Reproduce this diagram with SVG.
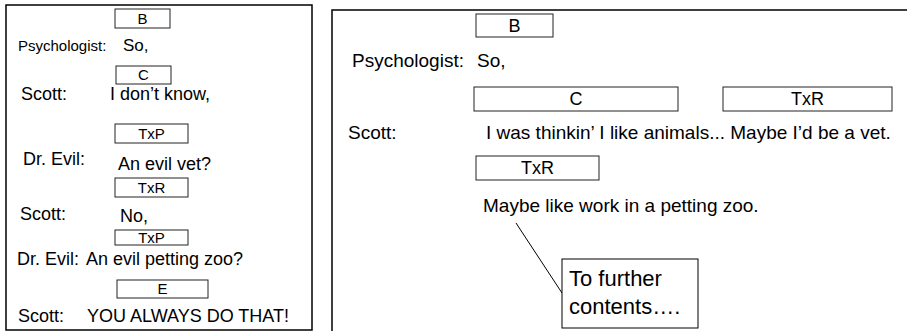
<svg xmlns="http://www.w3.org/2000/svg" width="907" height="331" viewBox="0 0 907 331">
<style>
text{font-family:"Liberation Sans",Arial,Helvetica,sans-serif;fill:#000}
.panel{fill:none;stroke:#000;stroke-width:1.5}
.box{fill:#fff;stroke:#222;stroke-width:1}
.lb{font-size:15px;text-anchor:middle}
.rb{font-size:18px;text-anchor:middle}
.lt{font-size:18px}
.rt{font-size:19px}
.co{font-size:22px}
</style>
<rect width="907" height="331" fill="#fff"/>
<g id="left-panel">
<rect class="panel" x="6" y="5" width="306" height="325"/>
<g id="l-B"><rect class="box" x="115" y="9" width="55" height="19"/><text class="lb" x="142.5" y="24">B</text></g>
<text x="18" y="51" style="font-size:15px">Psychologist:</text>
<text x="123" y="51" style="font-size:17px">So,</text>
<g id="l-C"><rect class="box" x="116" y="66" width="55" height="18"/><text class="lb" x="143.5" y="80">C</text></g>
<text class="lt" x="21" y="100">Scott:</text>
<text class="lt" x="110" y="100">I don’t know,</text>
<g id="l-TxP1"><rect class="box" x="115" y="124" width="73" height="19"/><text class="lb" x="151.5" y="139">TxP</text></g>
<text class="lt" x="23" y="165">Dr. Evil:</text>
<text class="lt" x="118" y="170">An evil vet?</text>
<g id="l-TxR"><rect class="box" x="115" y="178" width="73" height="19"/><text class="lb" x="151.5" y="193">TxR</text></g>
<text class="lt" x="20" y="220">Scott:</text>
<text class="lt" x="120" y="222">No,</text>
<g id="l-TxP2"><rect class="box" x="115" y="230" width="73" height="15"/><text class="lb" x="151.5" y="243">TxP</text></g>
<text class="lt" x="17" y="265">Dr. Evil:</text>
<text class="lt" x="86" y="265">An evil petting zoo?</text>
<g id="l-E"><rect class="box" x="117" y="280" width="91" height="18"/><text class="lb" x="162.5" y="294">E</text></g>
<text class="lt" x="18" y="322">Scott:</text>
<text class="lt" x="87" y="322">YOU ALWAYS DO THAT!</text>
</g>
<g id="right-panel">
<path class="panel" d="M907 10 H332 V331"/>
<g id="r-B"><rect class="box" x="476" y="14" width="77" height="23"/><text class="rb" x="514.5" y="32">B</text></g>
<text class="rt" x="352" y="67">Psychologist:</text>
<text class="rt" x="477" y="67">So,</text>
<g id="r-C"><rect class="box" x="474" y="87" width="204" height="24"/><text class="rb" x="576" y="105">C</text></g>
<g id="r-TxR1"><rect class="box" x="723" y="87" width="169" height="24"/><text class="rb" x="807.5" y="105">TxR</text></g>
<text class="rt" x="348" y="139">Scott:</text>
<text class="rt" x="486" y="139">I was thinkin’ I like animals... Maybe I’d be a vet.</text>
<g id="r-TxR2"><rect class="box" x="476" y="156" width="123" height="24"/><text class="rb" x="537.5" y="174">TxR</text></g>
<text class="rt" x="483" y="212">Maybe like work in a petting zoo.</text>
</g>
<g id="connectors">
<line x1="516" y1="223" x2="562" y2="293" stroke="#000" stroke-width="1"/>
</g>
<g id="callout">
<rect class="box" x="562" y="259" width="136" height="69" style="stroke:#000"/>
<text class="co" x="569" y="286">To further</text>
<text class="co" x="569" y="314">contents….</text>
</g>
</svg>
